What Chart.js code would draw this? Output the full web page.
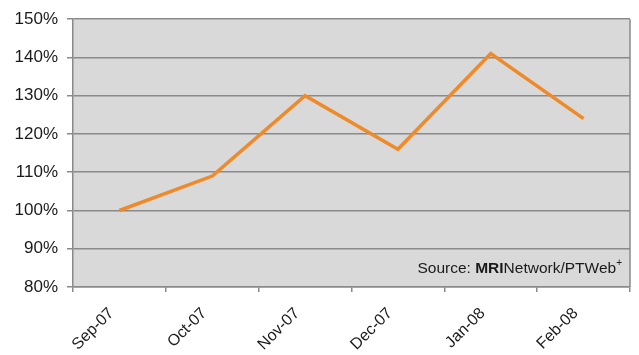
<!DOCTYPE html>
<html>
<head>
<meta charset="utf-8">
<script src="https://cdn.jsdelivr.net/npm/chart.js@4"></script>
<style>
  html, body { margin: 0; padding: 0; background: #fff; }
  #wrap { width: 639px; height: 355px; position: relative; }
</style>
</head>
<body>
<div id="wrap"><canvas id="chart" width="639" height="355"></canvas></div>
<script>
// Data
const months = ['Sep-07', 'Oct-07', 'Nov-07', 'Dec-07', 'Jan-08', 'Feb-08'];
const values = [100, 109, 130, 116, 141, 124];
const yTicks = [80, 90, 100, 110, 120, 130, 140, 150];

const FONT = '"Liberation Sans", Arial, sans-serif';

// Gray plot background + frame
const plotBg = {
    id: 'plotBg',
    beforeDraw(chart) {
        const { ctx, chartArea: a } = chart;
        ctx.save();
        ctx.fillStyle = '#d9d9d9';
        ctx.fillRect(a.left, a.top, a.right - a.left, a.bottom - a.top);
        ctx.restore();
    },
    afterDatasetsDraw(chart) {
        const { ctx, chartArea: a } = chart;
        ctx.save();
        ctx.strokeStyle = '#8a8a8a';
        ctx.lineWidth = 1.5;
        ctx.beginPath();
        ctx.moveTo(a.right, a.top);
        ctx.lineTo(a.right, a.bottom);
        ctx.stroke();
        ctx.restore();
    }
};

// Source note in the lower right corner
const sourceNote = {
    id: 'sourceNote',
    afterDraw(chart) {
        const { ctx, chartArea: a } = chart;
        const parts = [
            { t: 'Source: ', b: false },
            { t: 'MRI', b: true },
            { t: 'Network/PTWeb', b: false }
        ];
        ctx.save();
        ctx.fillStyle = '#1a1a1a';
        ctx.textBaseline = 'alphabetic';
        let w = 0;
        parts.forEach(p => {
            ctx.font = (p.b ? 'bold ' : '') + '15.5px ' + FONT;
            w += ctx.measureText(p.t).width;
        });
        ctx.font = '10px ' + FONT;
        w += ctx.measureText('+').width;
        let x = a.right - 8 - w;
        const y = a.bottom - 14;
        parts.forEach(p => {
            ctx.font = (p.b ? 'bold ' : '') + '15.5px ' + FONT;
            ctx.fillText(p.t, x, y);
            x += ctx.measureText(p.t).width;
        });
        ctx.font = '10px ' + FONT;
        ctx.fillText('+', x, y - 7);
        ctx.restore();
    }
};

new Chart(document.getElementById('chart'), {
    type: 'line',
    data: {
        labels: months,
        datasets: [{
            data: values,
            borderColor: '#ef8a2a',
            borderWidth: 3.5,
            pointRadius: 0,
            tension: 0,
            fill: false
        }]
    },
    options: {
        responsive: false,
        animation: false,
        layout: { padding: { top: 19, right: 9, left: 0, bottom: 0 } },
        plugins: {
            legend: { display: false },
            tooltip: { enabled: false }
        },
        scales: {
            x: {
                offset: true,
                grid: {
                    offset: true,
                    drawOnChartArea: false,
                    drawTicks: true,
                    tickLength: 5,
                    color: '#8a8a8a',
                    lineWidth: 1.5
                },
                border: { color: '#8a8a8a', width: 1.5 },
                ticks: {
                    minRotation: 45,
                    maxRotation: 45,
                    color: '#1a1a1a',
                    font: { family: FONT, size: 16 },
                    padding: 12,
                    labelOffset: -8
                },
                afterFit(scale) { scale.height = 68; }
            },
            y: {
                min: yTicks[0],
                max: yTicks[yTicks.length - 1],
                afterBuildTicks(scale) {
                    scale.ticks = yTicks.map(v => ({ value: v }));
                },
                grid: {
                    color: '#8a8a8a',
                    lineWidth: 1.5,
                    tickLength: 6
                },
                border: { color: '#8a8a8a', width: 1.5 },
                ticks: {
                    color: '#1a1a1a',
                    font: { family: FONT, size: 17 },
                    padding: 9,
                    callback: v => v + '%'
                },
                afterFit(scale) { scale.width = 73; }
            }
        }
    },
    plugins: [plotBg, sourceNote]
});
</script>
</body>
</html>
